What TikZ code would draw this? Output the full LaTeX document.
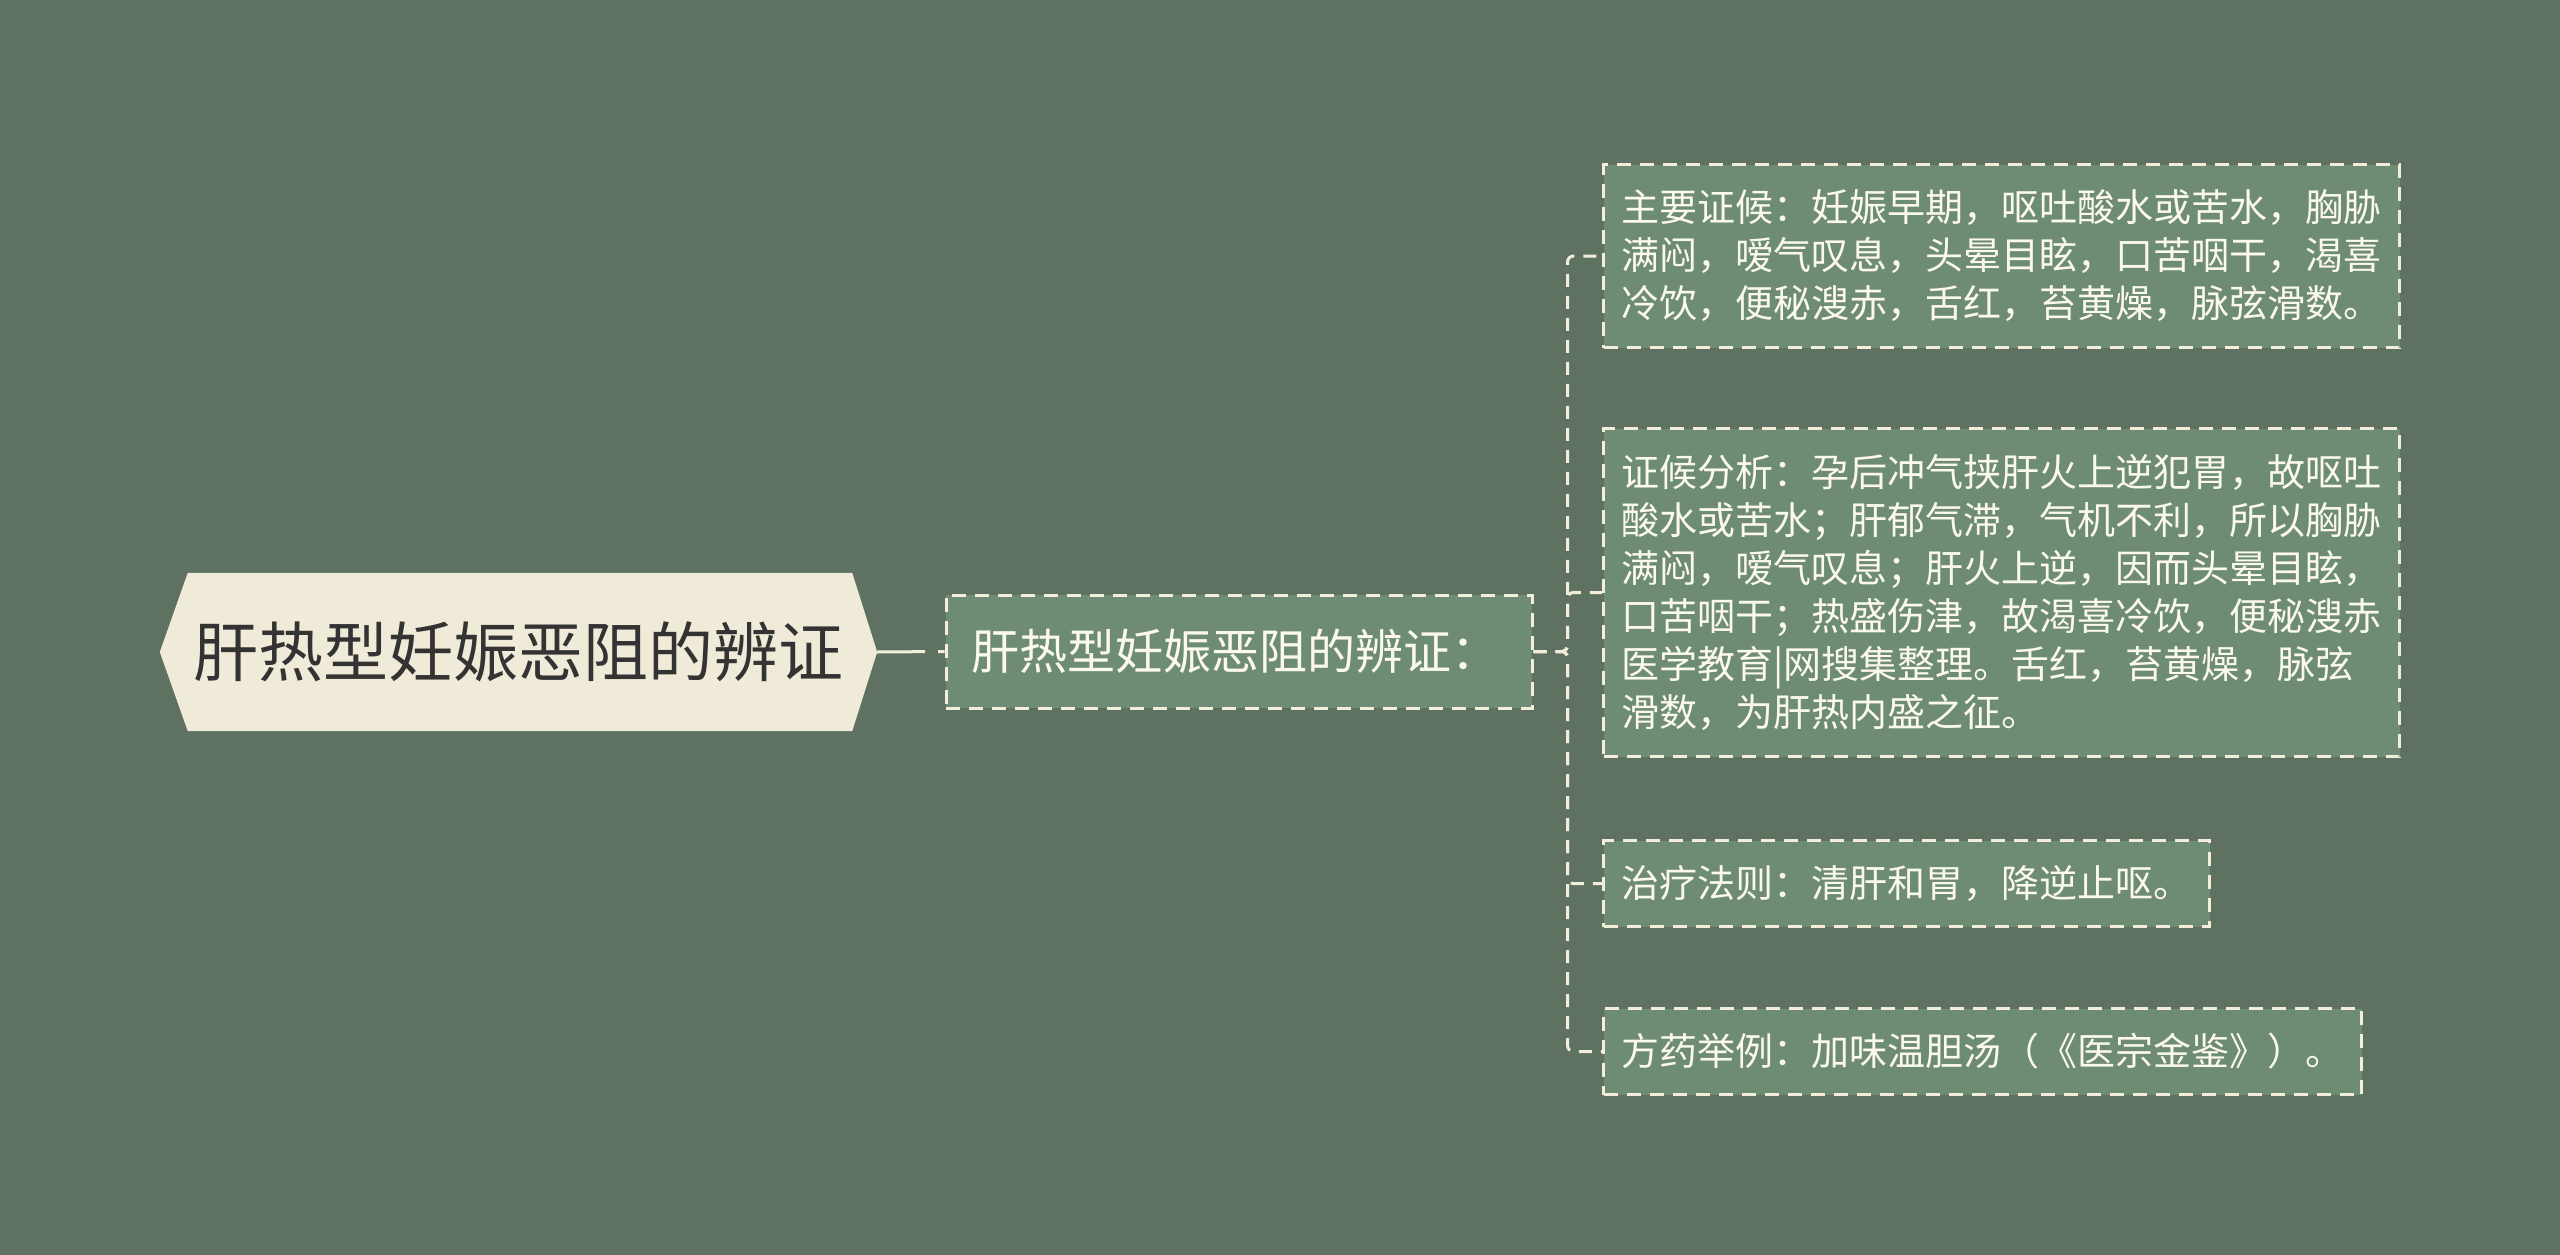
\documentclass[tikz,border=0pt]{standalone}
\usepackage{fontspec}
\setmainfont{Noto Sans CJK SC}
\definecolor{bgcol}{HTML}{5F7262}
\definecolor{boxfill}{HTML}{6E8B74}
\definecolor{rootfill}{HTML}{F0EBD9}
\definecolor{linecol}{HTML}{F3EEDA}
\definecolor{roottext}{HTML}{333333}
\definecolor{boxtext}{HTML}{FBF8EE}
\pgfdeclarelayer{back}
\pgfsetlayers{back,main}
\tikzset{
  rootnode/.style={inner sep=0pt, minimum width=717pt, minimum height=158pt,
    text=roottext, font=\fontsize{65}{70}\selectfont},
  childnode/.style={draw=linecol, line width=3pt, dash pattern=on 14pt off 9pt,
    fill=boxfill, text=boxtext, inner xsep=25pt, inner ysep=0pt,
    text width=536pt, align=left, minimum height=113pt,
    font=\fontsize{48}{56}\selectfont},
  leafnode/.style={draw=linecol, line width=3pt, dash pattern=on 14pt off 9pt,
    fill=boxfill, text=boxtext, inner xsep=18pt, inner ysep=0pt,
    align=left, anchor=north west,
    font=\fontsize{38}{48}\selectfont},
  conn/.style={draw=linecol, line width=3pt, dash pattern=on 13pt off 9pt},
  rootconn/.style={draw=linecol, line width=3pt, dash pattern=on 48pt off 13pt on 20pt off 10pt},
}
\begin{document}
\begin{tikzpicture}[x=1pt,y=-1pt]
\useasboundingbox (0,0) rectangle (2560,1255);
% root
\node[rootnode] (root) at (518.5,652) {肝热型妊娠恶阻的辨证};
% child
\node[childnode] (child) at (1239,651.5) {肝热型妊娠恶阻的辨证：};
% leaves
\node[leafnode, text width=760pt, minimum height=183pt] (b1) at (1602,163)
  {主要证候：妊娠早期，呕吐酸水或苦水，胸胁\\满闷，嗳气叹息，头晕目眩，口苦咽干，渴喜\\冷饮，便秘溲赤，舌红，苔黄燥，脉弦滑数。};
\node[leafnode, text width=760pt, minimum height=328pt] (b2) at (1602,427)
  {证候分析：孕后冲气挟肝火上逆犯胃，故呕吐\\酸水或苦水；肝郁气滞，气机不利，所以胸胁\\满闷，嗳气叹息；肝火上逆，因而头晕目眩，\\口苦咽干；热盛伤津，故渴喜冷饮，便秘溲赤\\医学教育|网搜集整理。舌红，苔黄燥，脉弦\\滑数，为肝热内盛之征。};
\node[leafnode, text width=570pt, minimum height=86pt] (b3) at (1602,839)
  {治疗法则：清肝和胃，降逆止呕。};
\node[leafnode, text width=722pt, minimum height=86pt] (b4) at (1602,1007)
  {方药举例：加味温胆汤（《医宗金鉴》）。};
% background and root hexagon
\begin{pgfonlayer}{back}
  \fill[bgcol] (0,0) rectangle (2560,1255);
  \fill[rootfill] (root.west) -- ([xshift=28pt]root.north west) -- ([xshift=-25pt]root.north east)
    -- (root.east) -- ([xshift=-25pt]root.south east) -- ([xshift=28pt]root.south west) -- cycle;
\end{pgfonlayer}
% connectors
\draw[rootconn] (root.east) -- (child.west);
\foreach \b in {b1,b2,b3,b4}{
  \draw[conn, rounded corners=6pt] (child.east) -- ++(34,0) |- (\b.west);
}
\end{tikzpicture}
\end{document}
